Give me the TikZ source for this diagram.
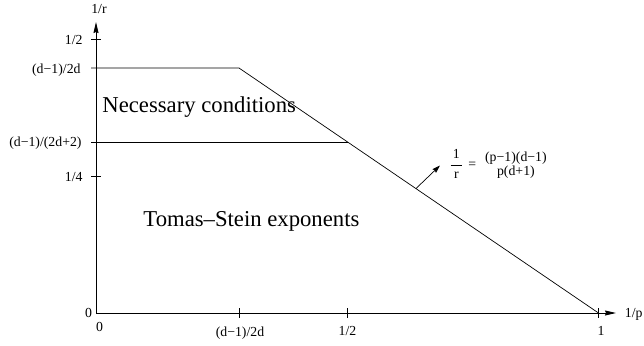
\documentclass[tikz,border=0pt]{standalone}
\usepackage{fontspec}
\setmainfont{Liberation Serif}
\usetikzlibrary{arrows.meta,positioning}

\begin{document}
\begin{tikzpicture}[x=1pt,y=-1pt,line width=0.9pt,
   >={Stealth[length=11pt,width=5pt,inset=1pt]},
   lbl/.style={font=\fontsize{13.8}{16}\selectfont,inner sep=0pt},
   big/.style={font=\fontsize{22.7}{27}\selectfont,inner sep=0pt,anchor=west},
   bound/.style={line width=0.7pt}]
  \useasboundingbox (0,0) rectangle (644,345);
  \coordinate (O) at (96,313);
  \coordinate (ytop) at (96,22);
  \coordinate (xend) at (616,313);
  \coordinate (yhi) at (91,68);
  \coordinate (ylo) at (91,142);
  \coordinate (kink) at (239,68);
  \coordinate (half) at (347.5,142);
  \coordinate (one) at (598.5,313);
  \draw[->] (O) -- (ytop);
  \draw[->] (O) -- (xend);
  \draw[bound] (yhi) -- (kink) -- (one);
  \draw[bound] (ylo) -- (half);
  \foreach \y in {39,176} \draw[bound] (91,\y) -- (101,\y);
  \foreach \x in {239,347.5,598.5} \draw[bound] (\x,308) -- (\x,318);
  \node[lbl] (rlab) at (99,9) {1/r};
  \node[lbl,anchor=east] (yhalf) at (83,40) {1/2};
  \node[lbl,anchor=east] (ykink) at (81,70) {(d−1)/2d};
  \node[lbl,anchor=east] (ymid) at (82,143) {(d−1)/(2d+2)};
  \node[lbl,anchor=east] (yquart) at (83,177) {1/4};
  \node[lbl] (yzero) at (88.5,313) {0};
  \node[lbl] (xzero) at (99.5,327) {0};
  \node[lbl] (xkink) at (240,333) {(d−1)/2d};
  \node[lbl] (xhalf) at (347.5,331) {1/2};
  \node[lbl] (xone) at (601,331) {1};
  \node[lbl,anchor=east] (plab) at (643,314) {1/p};
  \node[big] (nec) at (102,107) {Necessary conditions};
  \node[big] (ts) at (143,221) {Tomas–Stein exponents};
  \node[lbl,anchor=west] (rule) at (449,165) {$\displaystyle\frac{\mbox{\,1\,}}{\mbox{r}}$\hspace{5pt}=\hspace{9pt}\begin{tabular}{@{}c@{}}(p−1)(d−1)\\[-2pt]p(d+1)\end{tabular}};
  \coordinate (foot) at (416,188.5);
  \coordinate (tip) at (440,165.5);
  \draw[->,bound,>={Stealth[length=8pt,width=5pt,inset=1pt]}] (foot) -- (tip);
\end{tikzpicture}
\end{document}
